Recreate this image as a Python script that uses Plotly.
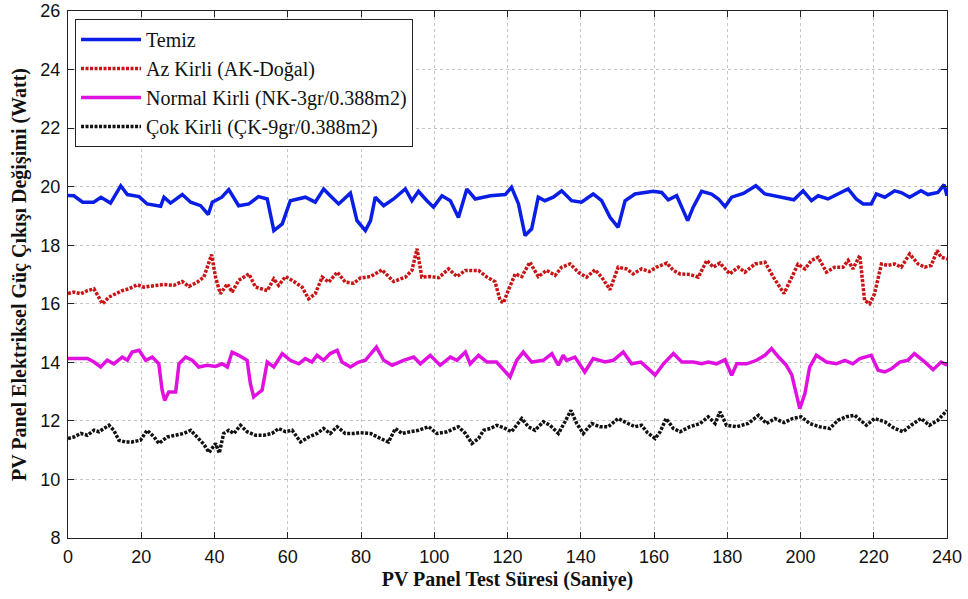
import plotly.graph_objects as go

# ---- data ----
t_temiz = [0, 1.6, 4, 7, 9, 11.6, 14.4, 16.2, 19.4, 21.6,
           25.3, 26.2, 28, 31.2, 33.5, 36.2, 38.3, 39.4, 42, 43.9,
           46.6, 49.4, 52, 54.4, 56.2, 58.5, 60.7, 64.8, 67.5, 69.8,
           71.6, 73.9, 77.1, 78.9, 81.2, 82.6, 83.9, 86.2, 88.9, 92.1,
           93.9, 95.7, 98, 99.8, 102.1, 104.4, 106.6, 108.9, 111.2, 115.3,
           119.4, 121.1, 123, 124.8, 126.6, 128.4, 130.2, 132.5, 134.8, 137.5,
           140.2, 143.4, 145.7, 148, 150.2, 152.1, 154.8, 157.1, 159.8, 162.1,
           163.9, 166.2, 167.6, 169.2, 170.7, 173, 175.7, 177.6, 179.4, 181.2,
           184.4, 187.8, 190.3, 194.4, 198.2, 200.7, 203, 204.8, 207.5, 210.2,
           213, 215.2, 217.1, 219.3, 220.7, 223, 225.7, 227.5, 229.8, 232.9,
           234.8, 237.5, 239.2, 240]
p_temiz = [19.7, 19.69, 19.47, 19.47, 19.64, 19.44, 20.03, 19.73, 19.66, 19.41,
           19.33, 19.64, 19.44, 19.73, 19.47, 19.35, 19.05, 19.47, 19.64, 19.9,
           19.35, 19.41, 19.66, 19.58, 18.5, 18.73, 19.52, 19.64, 19.47, 19.92,
           19.69, 19.41, 19.78, 18.84, 18.5, 18.84, 19.64, 19.35, 19.58, 19.92,
           19.52, 19.84, 19.52, 19.3, 19.69, 19.52, 18.95, 19.92, 19.58, 19.69,
           19.73, 19.98, 19.41, 18.33, 18.56, 19.64, 19.52, 19.64, 19.86, 19.52,
           19.47, 19.75, 19.52, 18.95, 18.61, 19.52, 19.75, 19.8, 19.84, 19.8,
           19.55, 19.69, 19.3, 18.84, 19.3, 19.84, 19.75, 19.58, 19.32, 19.64,
           19.77, 20.03, 19.75, 19.64, 19.55, 19.86, 19.52, 19.69, 19.58, 19.75,
           19.92, 19.58, 19.41, 19.41, 19.75, 19.64, 19.86, 19.8, 19.64, 19.86,
           19.73, 19.8, 20.07, 19.69]

t_az = [0, 1.6, 3.5, 5.3, 7.1, 8.2, 9.4, 11.2, 13, 14.8,
        16.6, 18.9, 20.7, 23.5, 26.2, 28.9, 31.2, 33, 35.3, 37.1,
        38.5, 39.2, 40.3, 41.6, 43.5, 44.8, 46.6, 49.4, 51.2, 54.4,
        56.2, 57.5, 59.4, 61.2, 63.9, 65.7, 67.5, 69.4, 71.2, 73.5,
        75.7, 78, 79.8, 82.6, 85.7, 88.9, 92.1, 93.9, 95.3, 96.6,
        98.9, 101.2, 103.9, 106.2, 108.5, 112.1, 114.4, 116.6, 118, 118.9,
        120.2, 122.1, 123.9, 126.1, 128.4, 130.7, 133, 134.8, 137.1, 139.3,
        141.6, 143.9, 145.7, 148, 150.2, 152.5, 154.3, 156.6, 158.7, 160.7,
        163.5, 165.3, 167.1, 169.8, 172.1, 174.4, 176.2, 178, 180.7, 183,
        184.8, 187.6, 190.3, 192.6, 195.5, 197.3, 199.3, 201.2, 203, 204.8,
        207.1, 209.3, 211.6, 213, 214.3, 216.2, 217.5, 218.9, 220.2, 222.1,
        223.9, 225.7, 227.5, 229.8, 232.1, 233.9, 235.7, 237.3, 238.4, 240]
p_az = [16.35, 16.4, 16.34, 16.45, 16.51, 16.28, 16.0, 16.23, 16.34, 16.45,
        16.51, 16.65, 16.57, 16.63, 16.66, 16.63, 16.76, 16.59, 16.74, 16.91,
        17.48, 17.68, 16.9, 16.34, 16.68, 16.4, 16.8, 17.02, 16.57, 16.45,
        16.85, 16.63, 16.93, 16.8, 16.57, 16.17, 16.34, 16.91, 16.74, 17.08,
        16.74, 16.7, 16.88, 16.93, 17.16, 16.76, 16.91, 17.14, 17.88, 16.91,
        16.93, 16.89, 17.19, 16.93, 17.14, 17.14, 16.91, 16.75, 16.11, 16.03,
        16.45, 17.02, 16.93, 17.42, 16.93, 17.14, 16.97, 17.25, 17.36, 17.08,
        16.91, 17.16, 16.91, 16.48, 17.25, 17.19, 17.02, 17.19, 17.1, 17.25,
        17.39, 17.14, 17.02, 17.0, 16.91, 17.48, 17.25, 17.39, 17.02, 17.25,
        17.08, 17.36, 17.42, 16.91, 16.35, 16.8, 17.35, 17.19, 17.48, 17.59,
        17.08, 17.25, 17.25, 17.48, 17.19, 17.65, 16.11, 16.0, 16.34, 17.36,
        17.31, 17.36, 17.25, 17.7, 17.36, 17.25, 17.31, 17.82, 17.59, 17.53]

t_normal = [0, 1.6, 5.3, 7.1, 8.9, 10.7, 12.5, 14.8, 16.2, 17.5,
            19.4, 21.2, 23, 24.8, 25.7, 26.4, 27.5, 29.4, 30.3, 32.1,
            33.9, 35.7, 38, 40.3, 42.1, 43.5, 44.8, 46.6, 48.9, 49.8,
            50.7, 53, 54.4, 56.2, 58.5, 60.7, 63, 64.8, 66.6, 68,
            69.8, 71.6, 73.5, 74.8, 77.1, 79.2, 81.2, 84.2, 86.2, 88.5,
            91.6, 94.4, 96.2, 98.9, 101.6, 104.4, 106.2, 108.5, 109.8, 112.1,
            114.4, 117, 118.9, 120.7, 122.5, 124.3, 126.6, 129.8, 132.1, 133.9,
            135.2, 136.1, 138.4, 141.1, 143.4, 146.6, 148.9, 151.6, 153.9, 156.4,
            158.7, 160.3, 162.6, 165.3, 167.6, 170.7, 173, 174.8, 177.1, 179.4,
            181.2, 182.6, 185.3, 188, 190.3, 192.1, 194, 196, 197.6, 198.6,
            199.8, 201.2, 202.5, 204.3, 207.1, 209.8, 212.1, 214.3, 216.2, 219.3,
            221.2, 223, 224.8, 227.1, 229.3, 231.1, 233.4, 236.2, 238.4, 240]
p_normal = [14.13, 14.13, 14.13, 14.01, 13.84, 14.07, 13.95, 14.18, 14.07, 14.35,
            14.41, 14.07, 14.18, 13.95, 13.05, 12.7, 12.99, 12.99, 13.95, 14.18,
            14.07, 13.84, 13.9, 13.86, 13.95, 13.84, 14.35, 14.24, 14.07, 13.27,
            12.82, 13.05, 14.01, 13.84, 14.3, 14.07, 13.95, 14.13, 14.01, 14.24,
            14.07, 14.3, 14.41, 14.01, 13.84, 14.0, 14.07, 14.52, 14.07, 13.9,
            14.07, 14.18, 13.95, 14.24, 13.9, 14.18, 14.07, 14.35, 13.95, 14.24,
            14.01, 14.01, 13.73, 13.5, 14.07, 14.35, 14.01, 14.07, 14.3, 13.9,
            14.24, 14.07, 14.18, 13.67, 14.13, 14.01, 14.07, 14.35, 13.95, 14.01,
            13.75, 13.56, 13.95, 14.3, 14.01, 14.01, 13.95, 14.01, 13.95, 14.09,
            13.56, 13.95, 13.95, 14.07, 14.24, 14.47, 14.18, 13.92, 13.58, 13.0,
            12.42, 12.93, 13.84, 14.24, 14.01, 13.95, 14.07, 13.95, 14.13, 14.24,
            13.73, 13.67, 13.78, 14.01, 14.07, 14.3, 14.07, 13.75, 14.01, 13.9]

t_cok = [0, 1.6, 3.5, 5.3, 7.1, 8.5, 9.8, 11.2, 12.5, 13.9,
         15.7, 17.5, 19.8, 21.6, 23.5, 24.8, 27.1, 29.4, 31.6, 33.5,
         35.3, 37.1, 38.5, 40.3, 41.3, 42.5, 43.9, 45.3, 47.1, 48.9,
         51.2, 53.5, 55.7, 57.5, 59.4, 61.2, 63.5, 65.7, 68, 69.8,
         71.6, 73.5, 75.7, 78, 79.8, 82.6, 85.3, 87.5, 89.4, 91.2,
         93.5, 95.7, 98.5, 100.7, 103.5, 106.6, 108.5, 110.3, 112.1, 113.5,
         115.3, 117.1, 118.9, 121.1, 123.9, 125.7, 127.5, 129.8, 131.6, 133.9,
         135.7, 137.3, 138.9, 140.7, 143, 145.2, 147.5, 150.2, 152.9, 154.8,
         156.6, 158.2, 160.3, 161.7, 163.3, 165.3, 167.1, 169.8, 172.6, 174.8,
         176.7, 178, 179.8, 182.6, 185.7, 188.5, 190.7, 193, 195.5, 197.8,
         200.2, 202.5, 205.2, 208, 210.2, 212.5, 214.8, 218, 220.2, 223,
         225.7, 228, 230.2, 232.9, 235.2, 237.5, 240]
p_cok = [11.4, 11.45, 11.57, 11.51, 11.68, 11.63, 11.74, 11.85, 11.68, 11.34,
         11.28, 11.28, 11.34, 11.68, 11.45, 11.23, 11.45, 11.51, 11.57, 11.68,
         11.45, 11.2, 10.92, 11.23, 10.9, 11.57, 11.68, 11.57, 11.85, 11.63,
         11.51, 11.51, 11.57, 11.74, 11.63, 11.68, 11.28, 11.45, 11.57, 11.74,
         11.57, 11.8, 11.57, 11.57, 11.6, 11.57, 11.4, 11.28, 11.74, 11.57,
         11.63, 11.68, 11.8, 11.57, 11.63, 11.8, 11.57, 11.23, 11.4, 11.68,
         11.74, 11.85, 11.77, 11.63, 12.08, 11.8, 11.68, 11.97, 11.85, 11.57,
         11.97, 12.36, 11.91, 11.57, 11.91, 11.8, 11.8, 12.08, 11.91, 11.8,
         11.85, 11.6, 11.4, 11.63, 12.08, 11.74, 11.63, 11.8, 11.91, 12.14,
         11.91, 12.31, 11.85, 11.8, 11.91, 12.19, 11.91, 12.08, 11.94, 12.08,
         12.14, 11.91, 11.8, 11.74, 12.02, 12.14, 12.19, 11.85, 12.08, 11.97,
         11.74, 11.63, 11.85, 12.08, 11.85, 12.02, 12.36]

names = ["Temiz", "Az Kirli (AK-Doğal)", "Normal Kirli (NK-3gr/0.388m2)",
         "Çok Kirli (ÇK-9gr/0.388m2)"]
x_ticks = list(range(0, 241, 20))
y_ticks = list(range(8, 27, 2))

for a, b in [(t_temiz, p_temiz), (t_az, p_az), (t_normal, p_normal), (t_cok, p_cok)]:
    assert len(a) == len(b), (len(a), len(b))

series = [
    (t_temiz, p_temiz, "#0A1EE6", "solid"),
    (t_az, p_az, "#C81414", "3px,1.5px"),
    (t_normal, p_normal, "#E010E0", "solid"),
    (t_cok, p_cok, "#111111", "3px,1.5px"),
]

fig = go.Figure()
for (tx, py, col, dash), nm in zip(series, names):
    fig.add_trace(go.Scatter(x=tx, y=py, mode="lines", name=nm,
                             line=dict(color=col, width=3.5, dash=dash)))

axis_common = dict(
    showline=True, linecolor="#222", linewidth=1, mirror="ticks",
    ticks="inside", ticklen=6, tickcolor="#222",
    showgrid=True, gridcolor="#C4C4C4", griddash="dot", gridwidth=1,
    zeroline=False, automargin=False,
    tickfont=dict(family="Liberation Sans, Arial", size=18, color="#111"),
)

fig.update_layout(
    width=968, height=599,
    paper_bgcolor="white", plot_bgcolor="white",
    margin=dict(l=68, r=21, t=11, b=61),
    xaxis=dict(range=[0, 240], tickvals=x_ticks,
               title=dict(text="<b>PV Panel Test Süresi (Saniye)</b>",
                          font=dict(family="Liberation Serif, Times New Roman", size=20, color="#111"),
                          standoff=6),
               ticklabelstandoff=2,
               **axis_common),
    yaxis=dict(range=[8, 26], tickvals=y_ticks,
               title=dict(text="<b>PV Panel Elektriksel Güç Çıkışı Değişimi (Watt)</b>",
                          font=dict(family="Liberation Serif, Times New Roman", size=20, color="#111"),
                          standoff=8),
               ticklabelstandoff=3,
               **axis_common),
    legend=dict(x=0.008, y=0.985, xanchor="left", yanchor="top",
                bgcolor="white", bordercolor="#222", borderwidth=1,
                font=dict(family="Liberation Serif, Times New Roman", size=20, color="#111"),
                itemwidth=60),
    showlegend=True,
)

fig.write_html("out.html", config={"displayModeBar": False},
               post_script="document.body.style.margin='0';")
